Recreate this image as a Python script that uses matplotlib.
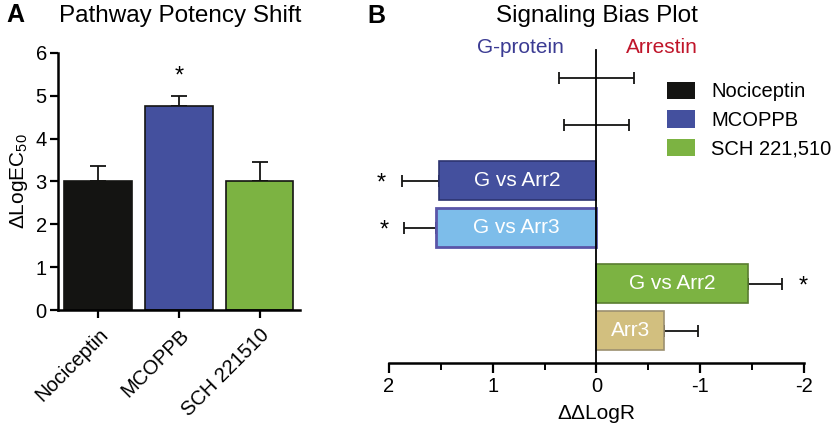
import numpy as np
import matplotlib
matplotlib.use('Agg')
import matplotlib.pyplot as plt
from matplotlib.patches import Patch
from matplotlib.ticker import MultipleLocator

plt.rcParams['font.family'] = ['Liberation Sans', 'DejaVu Sans']
plt.rcParams['axes.unicode_minus'] = False
plt.rcParams['mathtext.fontset'] = 'custom'
plt.rcParams['mathtext.rm'] = 'Liberation Sans'

# 数据 A: pathway potency shift
compounds = ['Nociceptin', 'MCOPPB', 'SCH 221510']
potency = [3.0, 4.77, 3.0]
potency_err = [0.37, 0.23, 0.45]
potency_colors = ['#141412', '#44509e', '#7cb342']
potency_sig = [False, True, False]

# 数据 B: signaling bias
bias_group = [0, 0, 1, 1, 2, 2]
bias_slot = [0, 1, 0, 1, 0, 1]
bias_labels = ['', '', 'G vs Arr2', 'G vs Arr3', 'G vs Arr2', 'Arr3']
bias_values = [0.0, 0.0, 1.52, 1.55, -1.46, -0.65]
bias_err = [0.36, 0.31, 0.35, 0.30, 0.33, 0.33]
bias_sig = [False, False, True, True, True, False]
bias_colors = ['#141412', '#141412', '#44509e', '#7dbdea', '#7cb342', '#d2bf7f']
bias_edges = ['#141412', '#141412', '#2c3470', '#5a55a8', '#5a7d30', '#9c9070']
legend_names = ['Nociceptin', 'MCOPPB', 'SCH 221,510']

fig = plt.figure(figsize=(8.4, 4.3), dpi=100)

# ---- 面板 A ----
axA = fig.add_axes([0.069, 0.279, 0.288, 0.598])
x = np.arange(len(compounds))
axA.bar(x, potency, width=0.84, color=potency_colors, edgecolor='#141412', linewidth=1.2, zorder=2)
axA.errorbar(x, potency, yerr=[np.zeros(len(x)), potency_err], fmt='none',
             ecolor='#141412', elinewidth=1.3, capsize=6, capthick=1.3, zorder=1)
for xi, v, e, s in zip(x, potency, potency_err, potency_sig):
    if s:
        axA.text(xi, v + e + 0.45, '*', ha='center', va='center', fontsize=17)
axA.set_xlim(-0.5, 2.5)
axA.set_ylim(0, 6)
axA.set_xticks(x)
axA.set_xticklabels(compounds, rotation=45, ha='right', rotation_mode='anchor', fontsize=14)
axA.set_yticks(range(7))
axA.tick_params(axis='both', labelsize=14.5, width=1.6, length=6, direction='out')
axA.tick_params(axis='x', pad=5)
axA.tick_params(axis='y', pad=2)
for sp in ['top', 'right']:
    axA.spines[sp].set_visible(False)
for sp in ['left', 'bottom']:
    axA.spines[sp].set_linewidth(1.8)
axA.set_ylabel(r'$\mathregular{\Delta LogEC_{50}}$', fontsize=15, labelpad=4)
fig.text(0.007, 0.965, 'A', fontsize=18, fontweight='bold', va='center')
fig.text(0.215, 0.962, 'Pathway Potency Shift', fontsize=17.5, ha='center', va='center')

# ---- 面板 B ----
axB = fig.add_axes([0.463, 0.156, 0.494, 0.728])
ypos = np.array(bias_group) + np.where(np.array(bias_slot) == 0, -0.228, 0.228)
vals = np.array(bias_values)
errs = np.array(bias_err)
lower = np.where(vals <= 0, errs, 0)
upper = np.where(vals >= 0, errs, 0)
for yp, v, c, ec in zip(ypos, vals, bias_colors, bias_edges):
    if v != 0:
        lw = 2 if c == '#7dbdea' else 1.2
        axB.barh(yp, v, height=0.38, color=c, edgecolor=ec, linewidth=lw, zorder=2)
axB.errorbar(vals, ypos, xerr=[lower, upper], fmt='none', ecolor='#141412',
             elinewidth=1.3, capsize=4, capthick=1.3, zorder=1)
for yp, v, lab in zip(ypos, vals, bias_labels):
    if lab:
        axB.text(v / 2, yp, lab, ha='center', va='center', color='white', fontsize=15, zorder=3)
for yp, v, e, s in zip(ypos, vals, errs, bias_sig):
    if s:
        sx = v + e + 0.2 if v > 0 else v - e - 0.2
        axB.text(sx, yp + 0.03, '*', ha='center', va='center', fontsize=17, clip_on=False)
axB.set_xlim(2, -2)
axB.set_ylim(2.54, -0.5)
axB.spines['left'].set_position(('data', 0))
axB.spines['left'].set_linewidth(1.3)
axB.spines['bottom'].set_linewidth(1.8)
for sp in ['top', 'right']:
    axB.spines[sp].set_visible(False)
axB.set_yticks([])
axB.set_xticks([2, 1, 0, -1, -2])
axB.xaxis.set_minor_locator(MultipleLocator(0.5))
axB.tick_params(axis='x', which='major', labelsize=14.5, width=1.6, length=7, pad=3)
axB.tick_params(axis='x', which='minor', width=1.4, length=5)
axB.set_xlabel('ΔΔLogR', fontsize=15, labelpad=6)
axB.text(0.73, -0.52, 'G-protein', color='#3b3b93', fontsize=15, ha='center', va='center', clip_on=False)
axB.text(-0.63, -0.52, 'Arrestin', color='#c0152a', fontsize=15, ha='center', va='center', clip_on=False)

handles = [Patch(facecolor=c, edgecolor='none') for c in ['#141412', '#44509e', '#7cb342']]
fig.legend(handles, legend_names, loc='upper left', bbox_to_anchor=(0.794, 0.81), frameon=False,
           fontsize=14.5, handlelength=1.4, handleheight=0.95, labelspacing=0.45, handletextpad=0.8,
           borderaxespad=0, borderpad=0)

fig.text(0.437, 0.962, 'B', fontsize=18, fontweight='bold', va='center')
fig.text(0.711, 0.962, 'Signaling Bias Plot', fontsize=17.5, ha='center', va='center')

fig.savefig('out.png', dpi=100)
